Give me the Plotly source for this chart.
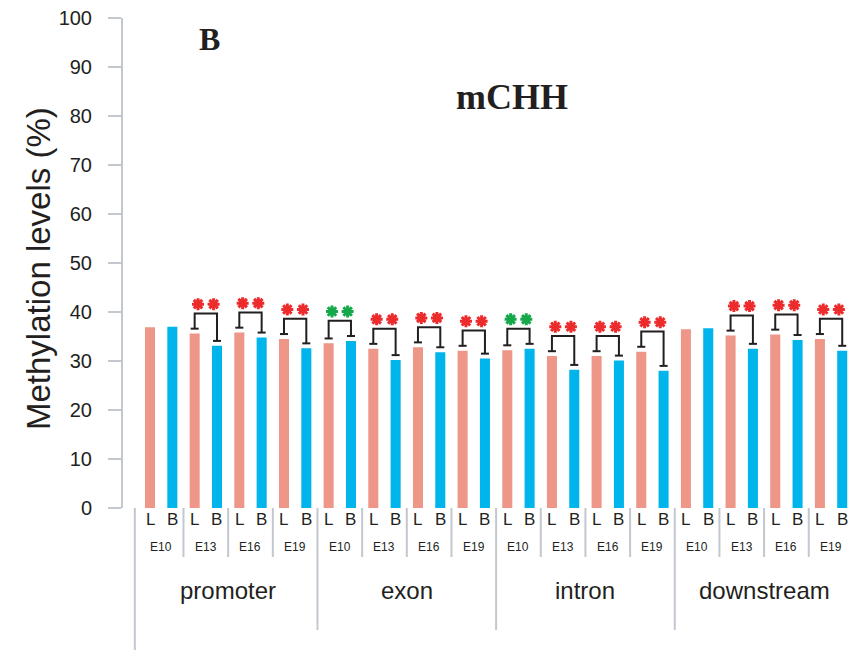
import plotly.graph_objects as go

# ---- data ----
regions = ["promoter", "exon", "intron", "downstream"]
stages = ["E10", "E13", "E16", "E19"]
tissues = ["L", "B"]
liver = [36.9, 35.6, 35.8, 34.5, 33.6, 32.5, 32.8, 32.1,
         32.2, 31.0, 31.0, 31.9, 36.5, 35.2, 35.4, 34.5]
brain = [37.0, 33.1, 34.8, 32.6, 34.1, 30.2, 31.8, 30.5,
         32.5, 28.2, 30.1, 28.0, 36.7, 32.5, 34.3, 32.1]
signif = ["", "red", "red", "red", "green", "red", "red", "red",
          "green", "red", "red", "red", "", "red", "red", "red"]
y_ticks = [0, 10, 20, 30, 40, 50, 60, 70, 80, 90, 100]

# ---- styles ----
C_L = "#EE9687"
C_B = "#00B5EC"
STAR = {"red": "#EC2B2D", "green": "#14A84B"}
GREY = "#C3C7CF"
INK = "#231F20"

OFF = 8  # default page body margin
W, H = 865 - OFF, 653 - OFF
ML, MR, MT, MB = 123 - OFF, 5, 18 - OFF, 145
PW, PH = W - ML - MR, H - MT - MB
PX_PER_UNIT = 22.33
X0 = -(150 - 123) / PX_PER_UNIT
XR = [X0, X0 + PW / PX_PER_UNIT]
BASE = 508  # page pixel of y = 0


def py(px):  # page pixel y -> paper y
    return (BASE - px) / PH


def pxp(px):  # page pixel x -> paper x
    return (px - 123) / PW


n = len(liver)
xL = [2 * i for i in range(n)]
xB = [2 * i + 1 for i in range(n)]

fig = go.Figure()
fig.add_trace(go.Bar(x=xL, y=liver, width=0.45, marker=dict(color=C_L, line=dict(width=0)),
                     showlegend=False, hoverinfo="y"))
fig.add_trace(go.Bar(x=xB, y=brain, width=0.45, marker=dict(color=C_B, line=dict(width=0)),
                     showlegend=False, hoverinfo="y"))

# brackets + stars
bx, byy = [], []
stars = {"red": ([], []), "green": ([], [])}
cap = 0.18
for i in range(n):
    if not signif[i]:
        continue
    a, b = xL[i], xB[i]
    yl, yr = liver[i] + 1.0, brain[i] + 1.0
    top = max(liver[i], brain[i]) + 4.1
    bx += [a - cap, a + cap, None, a, a, b, b, None, b - cap, b + cap, None]
    byy += [yl, yl, None, yl, top, top, yr, None, yr, yr, None]
    mid = (a + b) / 2
    sx, sy = stars[signif[i]]
    sx += [mid - 0.35, mid + 0.35]
    sy += [top + 1.9, top + 1.9]

fig.add_trace(go.Scatter(x=bx, y=byy, mode="lines", line=dict(color=INK, width=2),
                         showlegend=False, hoverinfo="skip", cliponaxis=False))
for col, (sx, sy) in stars.items():
    fig.add_trace(go.Scatter(x=sx, y=sy, mode="markers",
                             marker=dict(symbol="asterisk-open", size=10, color=STAR[col],
                                         line=dict(color=STAR[col], width=3)),
                             showlegend=False, hoverinfo="skip", cliponaxis=False))

shapes = []
annotations = []
# tissue labels
for i in range(n):
    for k, xx in enumerate([xL[i], xB[i]]):
        annotations.append(dict(x=xx, y=py(519), xref="x", yref="paper", text=tissues[k],
                                showarrow=False, font=dict(size=17, color=INK),
                                xanchor="center", yanchor="middle"))
    annotations.append(dict(x=(xL[i] + xB[i]) / 2, y=py(547), xref="x", yref="paper",
                            text=stages[i % 4], showarrow=False,
                            font=dict(size=12, color=INK), xanchor="center", yanchor="middle"))
# region labels
for g, name in enumerate(regions):
    annotations.append(dict(x=8 * g + 3.5, y=py(590), xref="x", yref="paper", text=name,
                            showarrow=False, font=dict(size=24, color=INK),
                            xanchor="center", yanchor="middle"))

# separators
for i in range(1, n):
    xs = 2 * i - 0.5
    bottom = 630 if i % 4 == 0 else 557
    shapes.append(dict(type="line", xref="x", yref="paper", x0=xs, x1=xs,
                       y0=py(508), y1=py(bottom), line=dict(color=GREY, width=2)))
shapes.append(dict(type="line", xref="x", yref="paper", x0=-0.68, x1=-0.68,
                   y0=py(508), y1=py(650), line=dict(color=GREY, width=2)))

# titles
annotations.append(dict(x=pxp(38), y=py(269), xref="paper", yref="paper",
                        text="Methylation levels (%)", textangle=-90, showarrow=False,
                        font=dict(size=33, color=INK), xanchor="center", yanchor="middle"))
annotations.append(dict(x=pxp(209), y=py(39), xref="paper", yref="paper", text="<b>B</b>",
                        showarrow=False, font=dict(size=32, color=INK, family="Liberation Serif"),
                        xanchor="center", yanchor="middle"))
annotations.append(dict(x=pxp(512), y=py(97), xref="paper", yref="paper", text="<b>mCHH</b>",
                        showarrow=False, font=dict(size=36, color=INK, family="Liberation Serif"),
                        xanchor="center", yanchor="middle"))

fig.update_layout(
    width=W, height=H,
    margin=dict(l=ML, r=MR, t=MT, b=MB, pad=0, autoexpand=False),
    paper_bgcolor="white", plot_bgcolor="white",
    font=dict(family="Liberation Sans", color=INK),
    barmode="overlay",
    shapes=shapes, annotations=annotations,
    xaxis=dict(range=XR, showgrid=False, zeroline=False, showline=False,
               showticklabels=False, ticks="", fixedrange=True, automargin=False),
    yaxis=dict(range=[0, 100], tickvals=y_ticks, showgrid=False, zeroline=False,
               showline=True, linecolor=GREY, linewidth=2,
               ticks="outside", ticklen=13, tickwidth=2, tickcolor=GREY,
               ticklabelstandoff=12, ticklabeloverflow="allow", automargin=False,
               tickfont=dict(size=20, color=INK), fixedrange=True),
)

fig.write_html("out.html")
